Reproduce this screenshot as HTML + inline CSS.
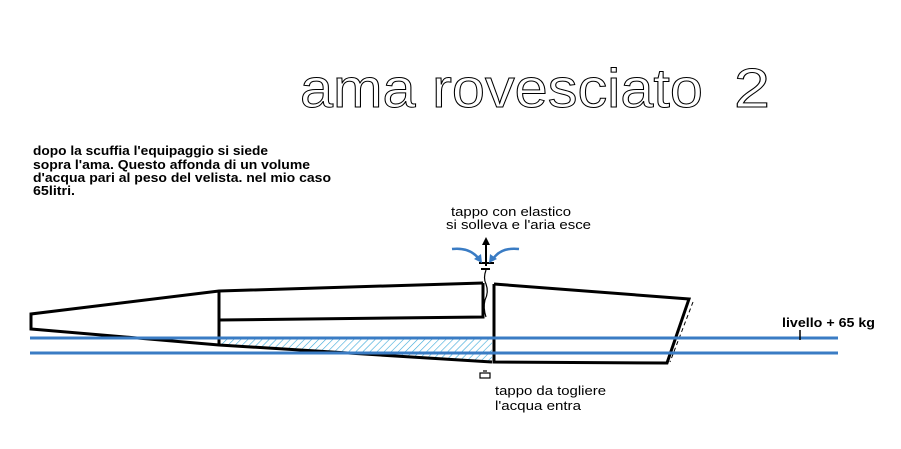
<!DOCTYPE html>
<html><head><style>html,body{margin:0;padding:0;background:#fff;}svg{display:block}</style></head>
<body>
<svg width="901" height="449" viewBox="0 0 901 449" xmlns="http://www.w3.org/2000/svg" font-family="Liberation Sans, sans-serif">
<defs>
<pattern id="h" width="5" height="5" patternUnits="userSpaceOnUse" patternTransform="rotate(45)">
<line x1="0" y1="0" x2="0" y2="5" stroke="#3aa8d8" stroke-width="1.2"/>
</pattern>
</defs>
<text x="300" y="107" font-size="55" fill="none" stroke="#000" stroke-width="1" textLength="403" lengthAdjust="spacingAndGlyphs">ama rovesciato</text>
<text x="734" y="107" font-size="55" fill="none" stroke="#000" stroke-width="1" textLength="36" lengthAdjust="spacingAndGlyphs">2</text>
<g font-size="13" font-weight="bold" fill="#000">
<text x="33" y="155" textLength="235" lengthAdjust="spacingAndGlyphs">dopo la scuffia l'equipaggio si siede</text>
<text x="33" y="169" textLength="277" lengthAdjust="spacingAndGlyphs">sopra l'ama. Questo affonda di un volume</text>
<text x="33" y="182" textLength="298" lengthAdjust="spacingAndGlyphs">d'acqua pari al peso del velista. nel mio caso</text>
<text x="33" y="195" textLength="42" lengthAdjust="spacingAndGlyphs">65litri.</text>
</g>
<g font-size="13" fill="#000">
<text x="451" y="216" textLength="120" lengthAdjust="spacingAndGlyphs">tappo con elastico</text>
<text x="446" y="229" textLength="145" lengthAdjust="spacingAndGlyphs">si solleva e l'aria esce</text>
<text x="495" y="395" textLength="111" lengthAdjust="spacingAndGlyphs">tappo da togliere</text>
<text x="495" y="410" textLength="86" lengthAdjust="spacingAndGlyphs">l'acqua entra</text>
<text x="782" y="327" font-weight="bold" textLength="93" lengthAdjust="spacingAndGlyphs">livello + 65 kg</text>
</g>
<polygon points="219,338 492,338 492,362 219,345" fill="url(#h)"/>
<g fill="none" stroke="#000" stroke-width="3" stroke-linejoin="miter">
<polyline points="483,283 219,291 31,314 31,329 219,345 492,362"/>
<line x1="219" y1="291" x2="219" y2="345"/>
<polyline points="219,320 483,317 483,283"/>
<polyline points="494,284 689,299 667,363 494,362 494,284"/>
</g>
<line x1="693" y1="302" x2="670" y2="362" stroke="#000" stroke-width="1" stroke-dasharray="4,3"/>
<path d="M486,270 q-3,8 0,14 q3,8 -1,16 q-2,8 1,17" fill="none" stroke="#000" stroke-width="1.2"/>
<line x1="30" y1="338" x2="838" y2="338" stroke="#3a7cc4" stroke-width="3"/>
<line x1="30" y1="353" x2="838" y2="353" stroke="#3a7cc4" stroke-width="3"/>
<line x1="800" y1="330" x2="800" y2="340" stroke="#000" stroke-width="1.5"/>
<line x1="486" y1="266" x2="486" y2="243" stroke="#000" stroke-width="2"/>
<polygon points="482,245 490,245 486,237" fill="#000"/>
<line x1="479" y1="263" x2="494" y2="263" stroke="#000" stroke-width="2"/>
<line x1="481" y1="269" x2="490" y2="269" stroke="#000" stroke-width="2"/>
<path d="M452,249 q18,-2 27,10" fill="none" stroke="#3a7cc4" stroke-width="2.5"/>
<polygon points="474,259 482,263 481,254" fill="#3a7cc4"/>
<path d="M519,249 q-18,-2 -26,10" fill="none" stroke="#3a7cc4" stroke-width="2.5"/>
<polygon points="497,259 489,263 490,254" fill="#3a7cc4"/>
<rect x="480" y="373" width="10" height="5" fill="none" stroke="#000" stroke-width="1.2"/>
<line x1="483" y1="371" x2="487" y2="371" stroke="#000" stroke-width="1.2"/>
</svg>
</body></html>
